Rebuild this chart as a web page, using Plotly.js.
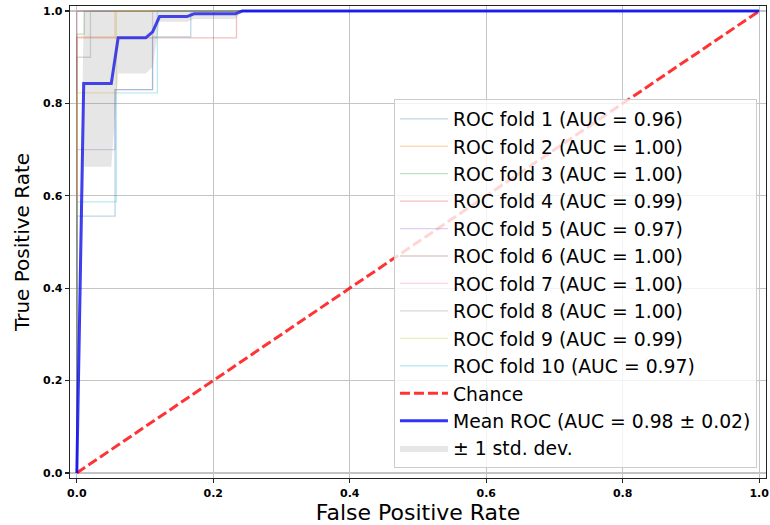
<!DOCTYPE html>
<html>
<head>
<meta charset="utf-8">
<script src="https://cdn.plot.ly/plotly-3.0.1.min.js"></script>
<style>html,body{margin:0;padding:0;background:#fff;}#chart{width:770px;height:525px;}</style>
</head>
<body>
<div id="chart"></div>
<script>
// ---- data ----
const foldNames = ["ROC fold 1 (AUC = 0.96)","ROC fold 2 (AUC = 1.00)","ROC fold 3 (AUC = 1.00)","ROC fold 4 (AUC = 0.99)","ROC fold 5 (AUC = 0.97)","ROC fold 6 (AUC = 1.00)","ROC fold 7 (AUC = 1.00)","ROC fold 8 (AUC = 1.00)","ROC fold 9 (AUC = 0.99)","ROC fold 10 (AUC = 0.97)"];
const foldColors = ["#1f77b4","#ff7f0e","#2ca02c","#d62728","#9467bd","#8c564b","#e377c2","#7f7f7f","#bcbd22","#17becf"];

const fold1Fpr = [0, 0, 0.056, 0.056, 0.111, 0.111, 0.167, 0.167, 1];
const fold1Tpr = [0, 0.556, 0.556, 0.83, 0.83, 0.944, 0.944, 1, 1];
const fold2Fpr = [0, 0, 0.056, 0.056, 1];
const fold2Tpr = [0, 0.944, 0.944, 1, 1];
const fold3Fpr = [0, 0, 0.011, 0.011, 1];
const fold3Tpr = [0, 0.95, 0.95, 1, 1];
const fold4Fpr = [0, 0, 0.234, 0.234, 1];
const fold4Tpr = [0, 0.942, 0.942, 1, 1];
const fold5Fpr = [0, 0, 0.056, 0.056, 0.111, 0.111, 1];
const fold5Tpr = [0, 0.7, 0.7, 0.83, 0.83, 1, 1];
const fold6Fpr = [0, 0, 1];
const fold6Tpr = [0, 1, 1];
const fold7Fpr = [0, 0, 1];
const fold7Tpr = [0, 1, 1];
const fold8Fpr = [0, 0, 0.02, 0.02, 1];
const fold8Tpr = [0, 0.9, 0.9, 1, 1];
const fold9Fpr = [0, 0, 0.058, 0.058, 1];
const fold9Tpr = [0, 0.823, 0.823, 1, 1];
const fold10Fpr = [0, 0, 0.058, 0.058, 0.118, 0.118, 1];
const fold10Tpr = [0, 0.587, 0.587, 0.823, 0.823, 1, 1];

const chanceX = [0, 1];
const chanceY = [0, 1];

const meanFpr = [0, 0.0101, 0.0505, 0.0606, 0.1010, 0.1111, 0.1212, 0.1616, 0.1717, 0.2323, 0.2424, 1.0];
const meanTpr = [0, 0.843, 0.843, 0.942, 0.942, 0.955, 0.988, 0.988, 0.994, 0.994, 1.0, 1.0];
const lowerTpr = [0, 0.663, 0.663, 0.865, 0.865, 0.879, 0.977, 0.977, 0.983, 0.983, 1.0, 1.0];
const upperTpr = [0, 1, 1, 1, 1, 1, 1, 1, 1, 1, 1, 1];

const xTicks = [0, 0.2, 0.4, 0.6, 0.8, 1.0];
const xTickText = ["0.0","0.2","0.4","0.6","0.8","1.0"];
const yTicks = [0, 0.2, 0.4, 0.6, 0.8, 1.0];
const yTickText = ["0.0","0.2","0.4","0.6","0.8","1.0"];

// ---- traces ----
const foldFpr = [fold1Fpr,fold2Fpr,fold3Fpr,fold4Fpr,fold5Fpr,fold6Fpr,fold7Fpr,fold8Fpr,fold9Fpr,fold10Fpr];
const foldTpr = [fold1Tpr,fold2Tpr,fold3Tpr,fold4Tpr,fold5Tpr,fold6Tpr,fold7Tpr,fold8Tpr,fold9Tpr,fold10Tpr];
const traces = [];
for (let i = 0; i < foldNames.length; i++) {
  traces.push({x: foldFpr[i], y: foldTpr[i], type: 'scatter', mode: 'lines', name: foldNames[i],
    line: {color: foldColors[i], width: 1.3}, opacity: 0.3, legendrank: i + 1, hoverinfo: 'skip'});
}
traces.push({x: chanceX, y: chanceY, type: 'scatter', mode: 'lines', name: 'Chance',
  line: {color: 'rgba(255,0,0,0.8)', width: 3, dash: '10px,4px'}, legendrank: 11});
traces.push({x: meanFpr, y: meanTpr, type: 'scatter', mode: 'lines', name: 'Mean ROC (AUC = 0.98 ± 0.02)',
  line: {color: 'rgba(0,0,255,0.8)', width: 3}, legendrank: 12});
traces.push({x: meanFpr, y: lowerTpr, type: 'scatter', mode: 'lines', showlegend: false,
  line: {width: 0, color: 'rgba(128,128,128,0)'}, hoverinfo: 'skip'});
traces.push({x: meanFpr, y: upperTpr, type: 'scatter', mode: 'lines', name: '± 1 std. dev.',
  fill: 'tonexty', fillcolor: 'rgba(128,128,128,0.2)', line: {width: 0, color: 'rgba(128,128,128,0)'}, legendrank: 13});

const axisCommon = {
  showgrid: true, gridcolor: '#c4c4c4', gridwidth: 1.2, zeroline: false,
  showline: true, mirror: true, linecolor: '#222', linewidth: 1.3,
  ticks: 'outside', ticklen: 4, tickcolor: '#222', tickwidth: 1.2,
  tickfont: {family: 'DejaVu Sans', size: 11, color: '#000', weight: 'bold'}
};

const layout = {
  width: 770, height: 525,
  margin: {l: 70, r: 4, t: 6, b: 47},
  paper_bgcolor: '#fff', plot_bgcolor: '#fff',
  font: {family: 'DejaVu Sans', color: '#000'},
  xaxis: Object.assign({}, axisCommon, {
    range: [-0.01, 1.01], tickvals: xTicks, ticktext: xTickText,
    title: {text: 'False Positive Rate', font: {family: 'DejaVu Sans', size: 22, color: '#000'}, standoff: 5}
  }),
  yaxis: Object.assign({}, axisCommon, {
    range: [-0.011, 1.011], tickvals: yTicks, ticktext: yTickText,
    title: {text: 'True Positive Rate', font: {family: 'DejaVu Sans', size: 20, color: '#000'}, standoff: 8}
  }),
  legend: {
    x: 0.987, y: 0.021, xanchor: 'right', yanchor: 'bottom',
    bgcolor: 'rgba(255,255,255,0.8)', bordercolor: '#cccccc', borderwidth: 1,
    font: {family: 'DejaVu Sans', size: 18.8, color: '#000'},
    traceorder: 'normal', itemwidth: 48
  },
  showlegend: true
};

Plotly.newPlot('chart', traces, layout, {displayModeBar: false, staticPlot: true});
</script>
</body>
</html>
